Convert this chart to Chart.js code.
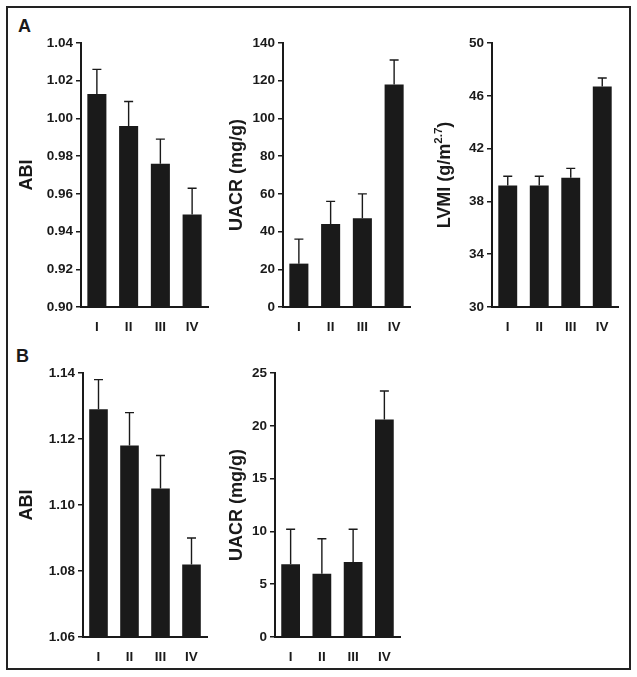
<!DOCTYPE html>
<html>
<head>
<meta charset="utf-8">
<script src="https://cdn.jsdelivr.net/npm/chart.js@4.4.0/dist/chart.umd.min.js"></script>
<style>
body{margin:0;background:#fff;width:637px;height:677px;position:relative;overflow:hidden;font-family:"Liberation Sans",Arial,sans-serif}
#frame{position:absolute;left:6px;top:6px;width:621px;height:660px;border:2px solid #222}
canvas{position:absolute}
.lab{position:absolute;font-weight:bold;font-size:18px;color:#1a1a1a}
</style>
</head>
<body>
<div id="frame"></div>
<div class="lab" style="left:18px;top:16px">A</div>
<div class="lab" style="left:16px;top:346px">B</div>
<canvas id="a1"></canvas>
<canvas id="a2"></canvas>
<canvas id="a3"></canvas>
<canvas id="b1"></canvas>
<canvas id="b2"></canvas>
<script>
// quartile groups
const groups = ['I', 'II', 'III', 'IV'];

// panel A
const abiA = [1.013, 0.996, 0.976, 0.949];
const abiAErr = [0.013, 0.013, 0.013, 0.014];
const uacrA = [23, 44, 47, 118];
const uacrAErr = [13, 12, 13, 13];
const lvmiA = [39.2, 39.2, 39.8, 46.7];
const lvmiAErr = [0.7, 0.7, 0.7, 0.65];

// panel B
const abiB = [1.129, 1.118, 1.105, 1.082];
const abiBErr = [0.009, 0.010, 0.010, 0.008];
const uacrB = [6.9, 6.0, 7.1, 20.6];
const uacrBErr = [3.3, 3.3, 3.1, 2.7];

const ink = '#1a1a1a';
const tickFont = { family: 'Liberation Sans', size: 13.5, weight: 'bold' };

// upward error bars with a cap
const errorBars = {
  id: 'errorBars',
  afterDatasetsDraw(chart) {
    const ds = chart.data.datasets[0];
    const y = chart.scales.y;
    const ctx = chart.ctx;
    ctx.save();
    ctx.strokeStyle = ink;
    ctx.lineWidth = 1.4;
    chart.getDatasetMeta(0).data.forEach((bar, i) => {
      const top = y.getPixelForValue(ds.data[i] + ds.errs[i]);
      ctx.beginPath();
      ctx.moveTo(bar.x, bar.y);
      ctx.lineTo(bar.x, top);
      ctx.moveTo(bar.x - 4.5, top);
      ctx.lineTo(bar.x + 4.5, top);
      ctx.stroke();
    });
    ctx.restore();
  }
};

// rotated title with a superscript part
const supTitle = {
  id: 'supTitle',
  afterDraw(chart, args, opts) {
    if (!opts.parts) return;
    const ctx = chart.ctx;
    const y = chart.scales.y;
    const cy = (chart.chartArea.top + chart.chartArea.bottom) / 2;
    ctx.save();
    ctx.fillStyle = ink;
    ctx.textBaseline = 'middle';
    const fonts = opts.parts.map(p => p.sup ? 'bold 11.5px "Liberation Sans"' : 'bold 18px "Liberation Sans"');
    let total = 0;
    opts.parts.forEach((p, i) => { ctx.font = fonts[i]; total += ctx.measureText(p.text).width; });
    ctx.translate(y.left + opts.offset, cy);
    ctx.rotate(-Math.PI / 2);
    let x = -total / 2;
    opts.parts.forEach((p, i) => {
      ctx.font = fonts[i];
      ctx.fillText(p.text, x, p.sup ? -6 : 0);
      x += ctx.measureText(p.text).width;
    });
    ctx.restore();
  }
};

function panel(id, geo, vals, errs, yMin, yMax, step, decimals, title, titleParts) {
  const cv = document.getElementById(id);
  const [bx, by, bw, bh] = geo.box;
  const [al, at, ar, ab] = geo.area;
  cv.width = bw; cv.height = bh;
  cv.style.left = bx + 'px'; cv.style.top = by + 'px';
  return new Chart(cv, {
    type: 'bar',
    data: {
      labels: groups,
      datasets: [{ data: vals, errs: errs, backgroundColor: ink, barPercentage: 0.6, categoryPercentage: 1 }]
    },
    options: {
      responsive: false,
      animation: false,
      layout: { padding: { left: 0, top: at - by, right: bx + bw - ar, bottom: 0 } },
      plugins: {
        legend: { display: false },
        tooltip: { enabled: false },
        supTitle: titleParts ? { parts: titleParts, offset: geo.titlePad + 10.8 } : {}
      },
      scales: {
        x: {
          grid: { display: false },
          border: { color: ink, width: 2 },
          ticks: { color: ink, font: tickFont, padding: 4 },
          afterFit: s => { s.height = by + bh - ab; }
        },
        y: {
          min: yMin, max: yMax,
          ticks: {
            stepSize: step,
            color: ink,
            font: tickFont,
            padding: 3,
            callback: v => v.toFixed(decimals)
          },
          grid: { drawOnChartArea: false, tickLength: 5, color: ink, lineWidth: 1.5 },
          border: { color: ink, width: 2 },
          title: {
            display: !titleParts,
            text: title,
            color: ink,
            font: { family: 'Liberation Sans', size: 18, weight: 'bold' },
            padding: { top: geo.titlePad, bottom: 0 }
          },
          afterFit: s => { s.width = al - bx; }
        }
      }
    },
    plugins: [errorBars, supTitle]
  });
}

panel('a1', { box: [8, 28, 207, 304], area: [81, 43, 208, 307], titlePad: 8 },
  abiA, abiAErr, 0.90, 1.04, 0.02, 2, 'ABI');
panel('a2', { box: [215, 28, 205, 304], area: [283, 43, 410, 307], titlePad: 11 },
  uacrA, uacrAErr, 0, 140, 20, 0, 'UACR (mg/g)');
panel('a3', { box: [420, 28, 208, 304], area: [492, 43, 618, 307], titlePad: 14 },
  lvmiA, lvmiAErr, 30, 50, 4, 0, 'LVMI (g/m2.7)',
  [{ text: 'LVMI (g/m' }, { text: '2.7', sup: true }, { text: ')' }]);
panel('b1', { box: [8, 358, 207, 305], area: [83, 373, 207, 637], titlePad: 8 },
  abiB, abiBErr, 1.06, 1.14, 0.02, 2, 'ABI');
panel('b2', { box: [215, 358, 205, 305], area: [275, 373, 400, 637], titlePad: 11 },
  uacrB, uacrBErr, 0, 25, 5, 0, 'UACR (mg/g)');
</script>
</body>
</html>
